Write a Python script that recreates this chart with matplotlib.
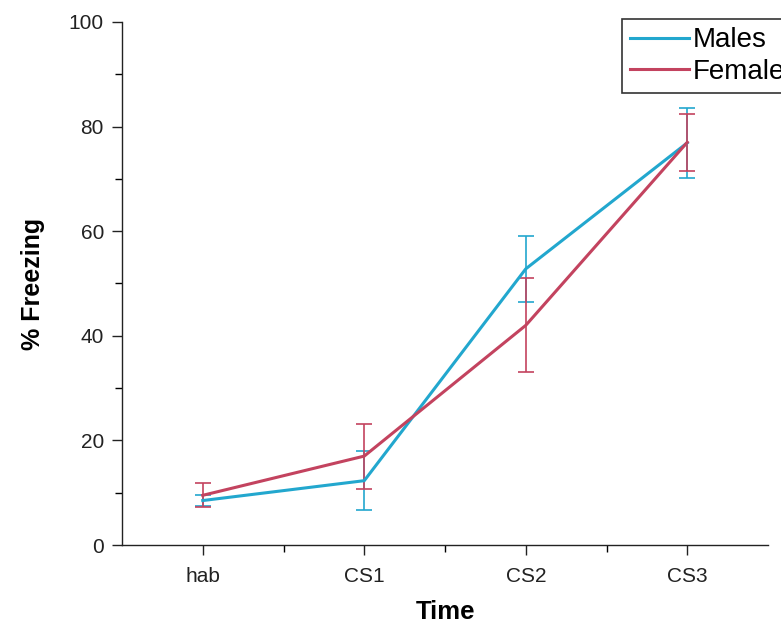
import matplotlib
matplotlib.use("Agg")
import matplotlib.pyplot as plt
from matplotlib.ticker import MultipleLocator, FixedLocator

plt.rcParams['font.family'] = ['Liberation Sans', 'DejaVu Sans']

# Freezing across the conditioning session
time_points = ['hab', 'CS1', 'CS2', 'CS3']
males_mean = [8.5, 12.3, 52.8, 76.9]
males_err = [1.0, 5.6, 6.3, 6.7]
females_mean = [9.5, 17.0, 42.0, 77.0]
females_err = [2.3, 6.2, 9.0, 5.5]

blue = '#22A7CE'
red = '#C3435F'

fig = plt.figure(figsize=(7.81, 6.23), dpi=100)
ax = fig.add_axes([0.1562, 0.1252, 0.8272, 0.8395])

x = range(len(time_points))
ax.errorbar(x, males_mean, yerr=males_err, color=blue, lw=2.2,
            elinewidth=1.2, capsize=6, capthick=1.2, label='Males')
ax.errorbar(x, females_mean, yerr=females_err, color=red, lw=2.2,
            elinewidth=1.2, capsize=6, capthick=1.2, label='Female')

ax.set_xlim(-0.5, 3.5)
ax.set_ylim(0, 100)
ax.set_xticks(list(x))
ax.set_xticklabels(time_points)
ax.xaxis.set_minor_locator(FixedLocator([0.5, 1.5, 2.5]))
ax.yaxis.set_major_locator(MultipleLocator(20))
ax.yaxis.set_minor_locator(MultipleLocator(10))
ax.tick_params(which='major', direction='out', length=7, width=1,
               labelsize=15, colors='#222222', pad=6)
ax.tick_params(axis='x', which='major', pad=9)
ax.tick_params(which='minor', direction='out', length=5, width=1)

for side in ('top', 'right'):
    ax.spines[side].set_visible(False)
for side in ('left', 'bottom'):
    ax.spines[side].set_linewidth(1)
    ax.spines[side].set_color('#222222')

ax.set_xlabel('Time', fontsize=18.5, fontweight='bold', labelpad=10)
ax.set_ylabel('% Freezing', fontsize=18, fontweight='bold', labelpad=17)

# legend box runs off the right edge of the figure
handles, labels = ax.get_legend_handles_labels()
handles = [h[0] for h in handles]
leg = fig.legend(handles, labels, loc='upper left',
                 bbox_to_anchor=(622 / 781, 1 - 19 / 623),
                 fontsize=20, frameon=True, fancybox=False,
                 edgecolor='black', handlelength=2.1, handletextpad=0.15,
                 borderpad=0.3, labelspacing=0.2, borderaxespad=0)
leg.get_frame().set_linewidth(1.2)

fig.savefig('out.png', dpi=100)
